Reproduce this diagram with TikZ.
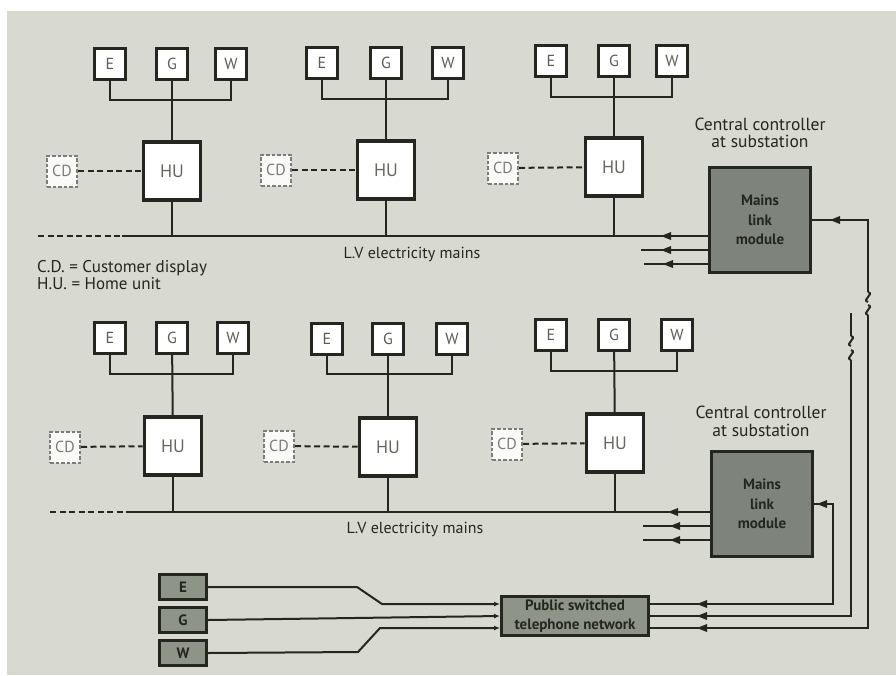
\documentclass[tikz,border=0pt]{standalone}
\usepackage{fontspec}
\setmainfont{PT Sans}
\usetikzlibrary{arrows.meta}
\definecolor{ink}{HTML}{25261F}
\definecolor{paper}{HTML}{D8D9D1}
\definecolor{module}{HTML}{7E847B}
\definecolor{netgrey}{HTML}{8F9489}
\newcommand\arrtip[2]{\fill[ink] (#1,#2) -- ++(10,-4) -- ++(0,8) -- cycle;}
\newcommand\breakmark[2]{\draw[wire] (#1,#2) .. controls (#1+7,#2+2) and (#1-7,#2+8) .. (#1,#2+10);}

\begin{document}
\begin{tikzpicture}[x=1pt,y=-1pt,
  wire/.style={draw=ink,line width=2pt},
  cdwire/.style={wire,dash pattern=on 6pt off 3.5pt},
  meter/.style={draw=ink,fill=white,line width=2.8pt,minimum width=31pt,minimum height=31pt,inner sep=0pt,text=ink!75,font=\fontsize{16}{16}\selectfont},
  hu/.style={draw=ink,fill=white,line width=3.6pt,minimum width=57pt,minimum height=58pt,inner sep=0pt,text=ink!70,font=\fontsize{18}{18}\selectfont},
  cd/.style={draw=ink!60,dash pattern=on 3.5pt off 2pt,fill=white!88!paper,line width=2pt,minimum width=30pt,minimum height=31pt,inner sep=0pt,text=ink!60,font=\fontsize{16}{16}\selectfont},
  mlm/.style={draw=ink,fill=module,line width=3.6pt,minimum width=101pt,minimum height=105pt,inner sep=0pt,align=center,text=ink,font=\bfseries\fontsize{15}{19.5}\selectfont},
  pstn/.style={draw=ink,fill=netgrey,line width=3pt,minimum width=147pt,minimum height=39pt,inner sep=0pt,align=center,text=ink,font=\bfseries\fontsize{15}{19}\selectfont},
  gmeter/.style={draw=ink,fill=netgrey,line width=3pt,minimum width=47pt,minimum height=25pt,inner sep=0pt,text=ink,font=\bfseries\fontsize{15}{15}\selectfont},
  label/.style={text=ink,font=\fontsize{17}{17}\selectfont,inner sep=0pt},
  into/.style={wire,-{Latex[length=6pt,width=5pt]}}]
\useasboundingbox (0,0) rectangle (896,675);
\fill[white] (0,0) rectangle (896,675);\fill[paper] (7,11) rectangle (896,675);
\coordinate (mainsA) at (0,236);\coordinate (mainsB) at (0,512);
\node[mlm] (mlm1) at (760,220){Mains\\link\\module};
\node[mlm] (mlm2) at (762,504){Mains\\link\\module};
\node[label,align=center,font=\fontsize{17.5}{17.5}\selectfont] (cc1) at (760,133){Central controller\\at substation};
\node[label,align=center,font=\fontsize{17.5}{18}\selectfont] (cc2) at (761,421){Central controller\\at substation};
\node[pstn] (pstn) at (575,616){Public switched\\telephone network};
\node[label,anchor=west,align=left] (key) at (37,275){C.D. = Customer display\\H.U. = Home unit};
\node[label,font=\fontsize{16}{16}\selectfont] (lv1) at (412,254){L.V electricity mains};
\node[label,font=\fontsize{16}{16}\selectfont] (lv2) at (415,529){L.V electricity mains};
\node[meter] (e1) at (110,64){E};\node[meter] (g1) at (172,64){G};\node[meter] (w1) at (231,64){W};
\node[hu] (h1) at (172,171){HU};\node[cd] (c1) at (62,171){CD};
\node[meter] (e2) at (322,63){E};\node[meter] (g2) at (386,63){G};\node[meter] (w2) at (448,63){W};
\node[hu] (h2) at (386,170){HU};\node[cd] (c2) at (276,170){CD};
\node[meter] (e3) at (551,61){E};\node[meter] (g3) at (614,61){G};\node[meter] (w3) at (672,61){W};
\node[hu] (h3) at (614,167){HU};\node[cd] (c3) at (503,168){CD};
\node[meter] (e4) at (110,338){E};\node[meter] (g4) at (172,338){G};\node[meter] (w4) at (233,338){W};
\node[hu] (h4) at (173,446){HU};\node[cd] (c4) at (65,447){CD};
\node[meter] (e5) at (327,339){E};\node[meter] (g5) at (388,339){G};\node[meter] (w5) at (452,339){W};
\node[hu] (h5) at (388,447){HU};\node[cd] (c5) at (279,446){CD};
\node[meter] (e6) at (551,335){E};\node[meter] (g6) at (614,335){G};\node[meter] (w6) at (677,335){W};
\node[hu] (h6) at (615,443){HU};\node[cd] (c6) at (507,444){CD};
\draw[wire] (e1.south) |- (w1.south |- 0,100) -- (w1.south);\draw[wire] (g1) -- (h1);\draw[cdwire] (c1) -- (h1);\draw[wire] (h1) -- (h1 |- mainsA);
\draw[wire] (e2.south) |- (w2.south |- 0,99) -- (w2.south);\draw[wire] (g2) -- (h2);\draw[cdwire] (c2) -- (h2);\draw[wire] (h2) -- (h2 |- mainsA);
\draw[wire] (e3.south) |- (w3.south |- 0,97) -- (w3.south);\draw[wire] (g3) -- (h3);\draw[cdwire] (c3) -- (h3);\draw[wire] (h3) -- (h3 |- mainsA);
\draw[wire] (e4.south) |- (w4.south |- 0,374) -- (w4.south);\draw[wire] (g4) -- (h4);\draw[cdwire] (c4) -- (h4);\draw[wire] (h4) -- (h4 |- mainsB);
\draw[wire] (e5.south) |- (w5.south |- 0,374) -- (w5.south);\draw[wire] (g5) -- (h5);\draw[cdwire] (c5) -- (h5);\draw[wire] (h5) -- (h5 |- mainsB);
\draw[wire] (e6.south) |- (w6.south |- 0,371) -- (w6.south);\draw[wire] (g6) -- (h6);\draw[cdwire] (c6) -- (h6);\draw[wire] (h6) -- (h6 |- mainsB);
\draw[cdwire] (38,236) -- (122,236);\draw[wire] (122,236) -- (mlm1.west |- mainsA);
\draw[wire] (641,250) -- (mlm1.west |- 0,250);\draw[wire] (644,264) -- (mlm1.west |- 0,264);
\draw[cdwire] (50,512) -- (130,512);\draw[wire] (130,512) -- (mlm2.west |- mainsB);
\draw[wire] (643,526) -- (mlm2.west |- 0,526);\draw[wire] (643,540) -- (mlm2.west |- 0,540);
\arrtip{661}{236}\arrtip{661}{250}\arrtip{663}{264}\arrtip{668}{512}\arrtip{670}{526}\arrtip{670}{540}
\node[gmeter] (me) at (183,587){E};\node[gmeter] (mg) at (183,620){G};\node[gmeter] (mw) at (183,653){W};
\draw[into] (me.east) -- (357,587) -- (382,604) -- (pstn.west |- 0,604);
\draw[into] (mg.east) -- (pstn.west |- 0,616);
\draw[into] (mw.east) -- (358,652) -- (380,628) -- (pstn.west |- 0,628);
\draw[wire] (pstn.east |- 0,604) -- (833,604) -- (833,504) -- (mlm2.east);
\draw[wire] (pstn.east |- 0,616) -- (851,616) -- (851,360);\breakmark{851}{350}\breakmark{851}{336}\draw[wire] (851,336) -- (851,313);
\draw[wire] (pstn.east |- 0,628) -- (868,628) -- (868,315);\breakmark{868}{305}\breakmark{868}{292}\draw[wire] (868,292) -- (868,220) -- (mlm1.east);
\arrtip{697}{604}\arrtip{697}{616}\arrtip{697}{628}\arrtip{817}{504}\arrtip{830}{220}
\end{tikzpicture}
\end{document}
